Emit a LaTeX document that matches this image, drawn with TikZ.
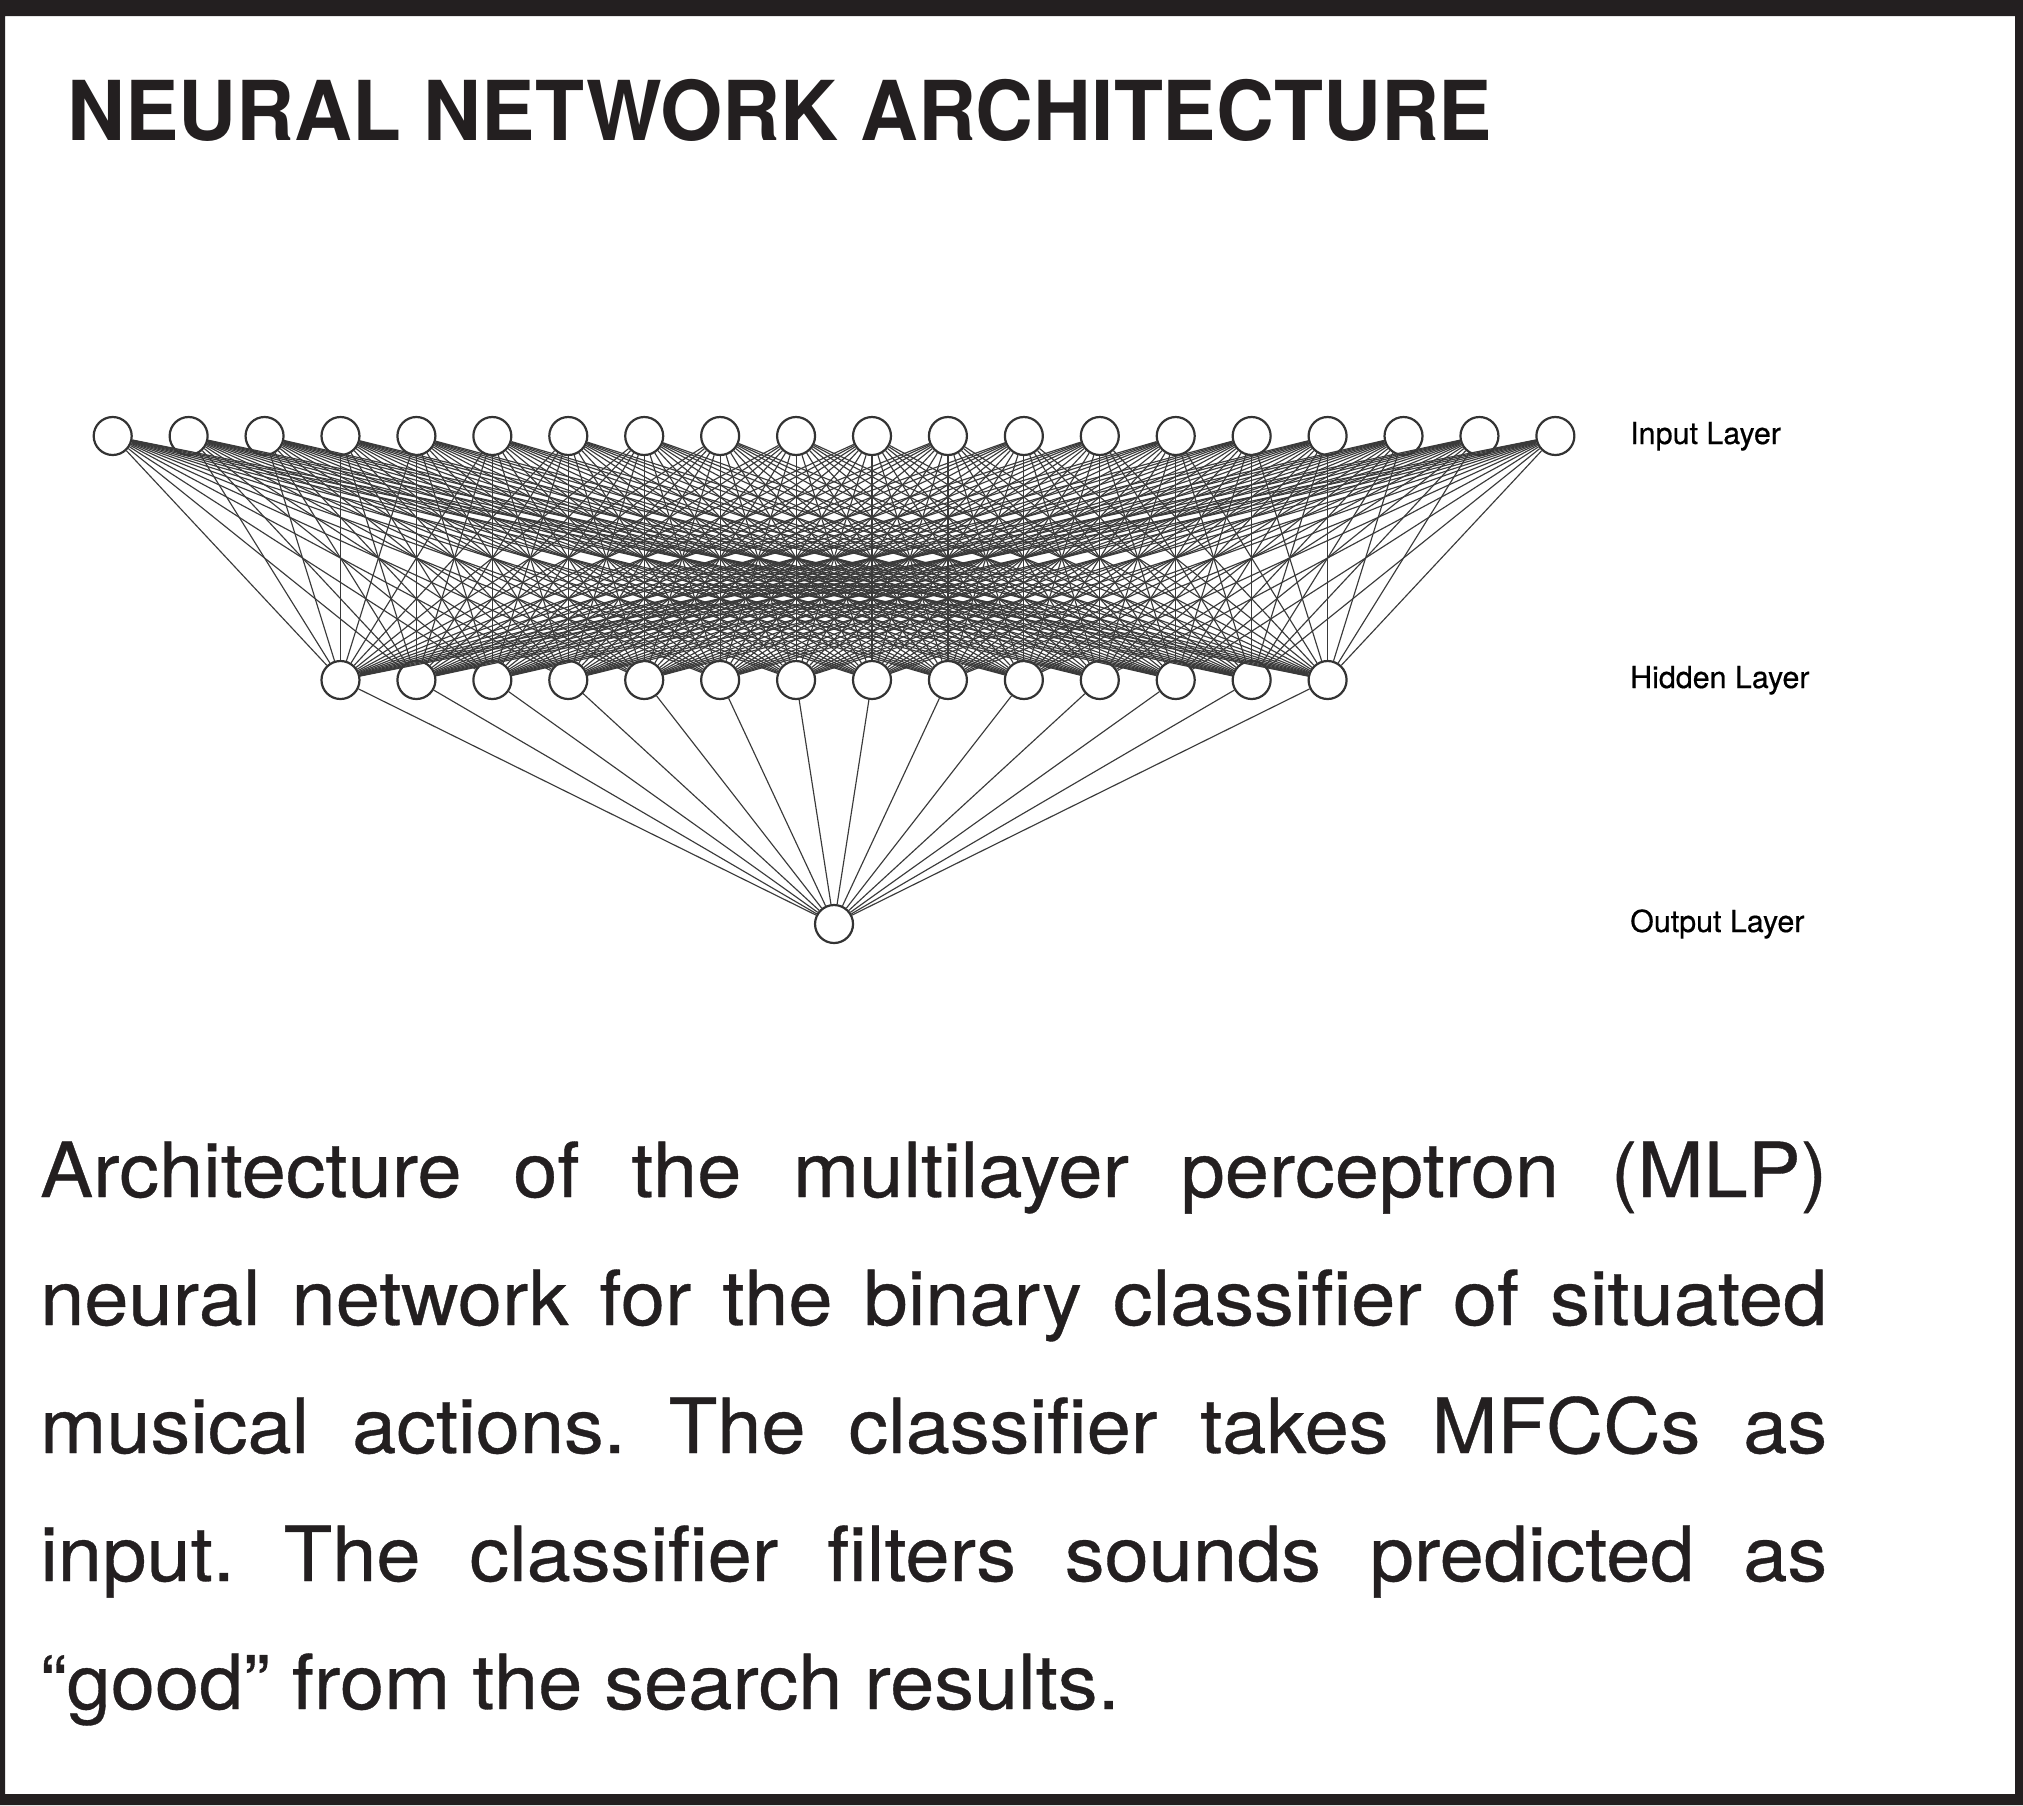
\documentclass[tikz,border=0pt]{standalone}
\usepackage{fontspec}
\setmainfont{TeX Gyre Heros}
\newfontfamily\medfont[FakeBold=0.45]{TeX Gyre Heros}
\definecolor{ink}{HTML}{231F20}
\definecolor{edgec}{HTML}{3A3A3A}
\definecolor{nodec}{HTML}{333333}
\newcommand{\capbox}[1]{\scalebox{1.045}[1]{\makebox[1710pt][s]{#1}}}
\begin{document}
\frenchspacing
\begin{tikzpicture}[x=1pt,y=-1pt,
  neuron/.style={circle,draw=nodec,line width=2.2pt,fill=white,minimum size=38pt,inner sep=0pt},
  edge/.style={draw=edgec,line width=1.15pt},
  lbl/.style={anchor=base west,inner sep=0pt,text=black,font=\medfont\fontsize{30.4}{36}\selectfont},
  capline/.style={anchor=base west,inner sep=0pt,text=ink,font=\medfont\fontsize{76}{90}\selectfont},
  titlestyle/.style={anchor=base west,inner sep=0pt,text=ink,font=\fontsize{82.6}{90}\selectfont\bfseries}]
\useasboundingbox (0,0) rectangle (2023,1805);
% frame
\fill[ink,even odd rule] (0,0) rectangle (2023,1805) (5,16) rectangle (2015,1794);
% title
\node[titlestyle] (title) at (67.5,140) {\scalebox{0.970}[1]{NEURAL NETWORK ARCHITECTURE}};
% neurons
\foreach \i in {0,...,19} {
  \node[neuron] (in\i) at ({112.7+75.93*\i},436) {};
}
\foreach \j in {0,...,13} {
  \node[neuron] (hid\j) at ({112.7+75.93*(\j+3)},680) {};
}
\node[neuron] (out) at ({112.7+75.93*9.5},924) {};
% connections
\foreach \i in {0,...,19} {
  \foreach \j in {0,...,13} {
    \draw[edge] (in\i) -- (hid\j);
  }
}
\foreach \j in {0,...,13} {
  \draw[edge] (hid\j) -- (out);
}
% layer labels
\node[lbl] (linput) at (1630,444) {Input Layer};
\node[lbl] (lhidden) at (1630,688) {Hidden Layer};
\node[lbl] (loutput) at (1630,932) {Output Layer};
% caption
\node[capline] (c1) at (40,1197) {\capbox{Architecture of the multilayer perceptron (MLP)}};
\node[capline] (c2) at (40,1325) {\capbox{neural network for the binary classifier of situated}};
\node[capline] (c3) at (40,1453) {\capbox{musical actions. The classifier takes MFCCs as}};
\node[capline] (c4) at (40,1581) {\capbox{input. The classifier filters sounds predicted as}};
\node[capline] (c5) at (40,1709) {\scalebox{1.045}[1]{“good” from the search results.}};
\end{tikzpicture}
\end{document}
